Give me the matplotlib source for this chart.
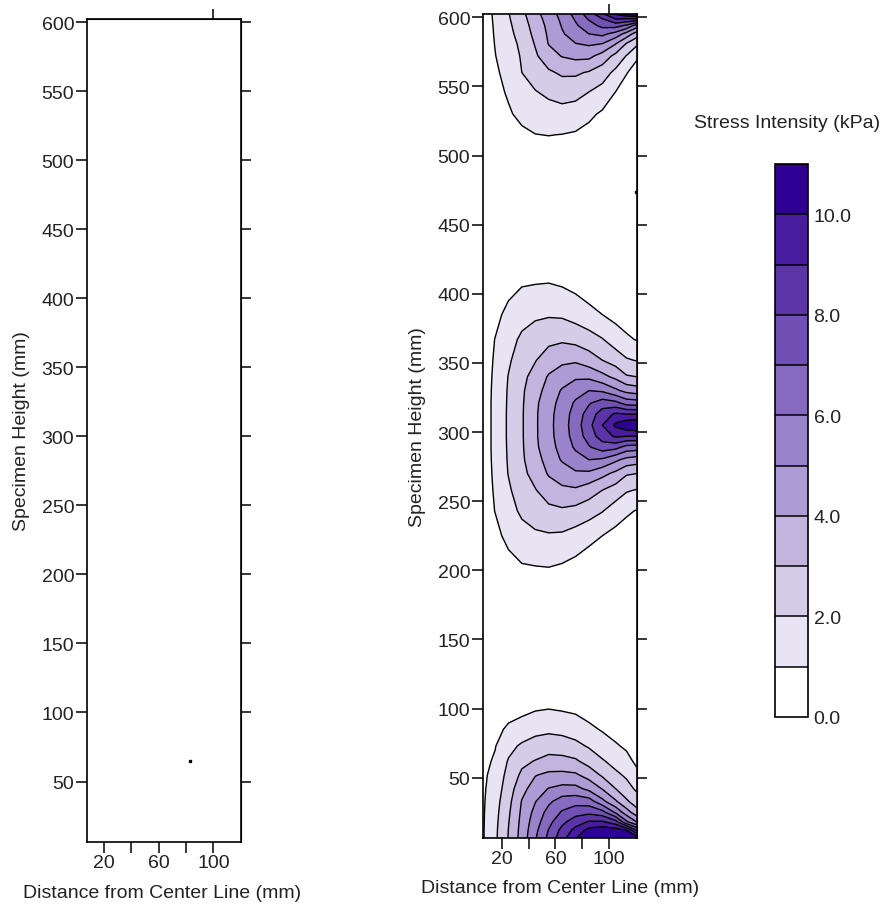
import numpy as np
import matplotlib
matplotlib.use("Agg")
import matplotlib.pyplot as plt

plt.rcParams['font.family'] = ['Liberation Sans', 'DejaVu Sans']
plt.rcParams['font.size'] = 14

# Column positions (distance from center line, mm) of the stress grid
x_cols = [6, 15, 25, 35, 45, 55, 65, 75, 85, 95, 105, 113, 120.6]

# Bottom lobe: specimen heights and stress values (kPa), one list per column
bottom_y = [6.4, 12, 18, 25, 33, 42, 52, 62, 73, 85, 100, 115, 135]
bottom_vals = [
    [0.92, 0.92, 0.91, 0.9, 0.88, 0.85, 0.8, 0.75, 0.68, 0.58, 0.45, 0.3, 0.15],
    [1.8, 1.78, 1.74, 1.68, 1.6, 1.48, 1.35, 1.12, 0.95, 0.75, 0.5, 0.3, 0.12],
    [3.05, 3.02, 2.95, 2.85, 2.7, 2.5, 2.3, 2.08, 1.7, 1.15, 0.65, 0.35, 0.12],
    [4.4, 4.35, 4.28, 4.18, 4.05, 3.7, 3.2, 2.75, 2.15, 1.4, 0.75, 0.35, 0.12],
    [5.9, 5.75, 5.55, 5.3, 4.95, 4.45, 3.95, 3.05, 2.35, 1.75, 0.9, 0.4, 0.12],
    [7.25, 7.05, 6.7, 6.35, 5.8, 5.05, 4.2, 3.35, 2.55, 1.8, 0.98, 0.45, 0.12],
    [8.6, 8.3, 7.75, 7.1, 6.45, 5.3, 4.25, 3.3, 2.5, 1.7, 0.9, 0.4, 0.12],
    [9.95, 9.3, 8.55, 7.6, 6.6, 5.3, 4.15, 3.15, 2.25, 1.55, 0.8, 0.35, 0.1],
    [10.6, 10.35, 9.1, 7.75, 6.45, 4.75, 3.6, 2.6, 1.9, 1.2, 0.6, 0.25, 0.08],
    [11.0, 10.65, 9.15, 7.35, 5.25, 3.95, 2.85, 2.1, 1.45, 0.92, 0.45, 0.2, 0.05],
    [11.0, 10.5, 8.4, 5.8, 4.1, 3.0, 2.2, 1.65, 1.1, 0.65, 0.3, 0.12, 0.03],
    [10.9, 10.0, 6.2, 4.45, 3.15, 2.35, 1.85, 1.3, 0.85, 0.5, 0.25, 0.1, 0.02],
    [10.6, 8.0, 5.0, 3.4, 2.45, 1.85, 1.25, 0.8, 0.5, 0.3, 0.12, 0.05, 0.0],
]

# Stress-free rows between the lobes
gap_y = [160, 455]

# Middle lobe: values at distances above/below its center height
mid_center = 305
mid_offsets = [0, 8, 16, 25, 35, 47, 62, 80, 100, 120]
mid_vals = [
    [0.6, 0.6, 0.6, 0.6, 0.58, 0.55, 0.48, 0.35, 0.2, 0.05],
    [1.2, 1.2, 1.2, 1.18, 1.15, 1.1, 1.02, 0.75, 0.4, 0.15],
    [2.15, 2.15, 2.13, 2.1, 2.04, 1.85, 1.6, 1.25, 0.75, 0.3],
    [2.9, 2.9, 2.88, 2.85, 2.75, 2.55, 2.2, 1.6, 1.0, 0.45],
    [3.85, 3.85, 3.8, 3.6, 3.35, 2.95, 2.45, 1.85, 1.05, 0.5],
    [4.7, 4.68, 4.6, 4.4, 4.1, 3.5, 2.75, 1.9, 1.08, 0.5],
    [5.55, 5.5, 5.35, 5.1, 4.5, 3.8, 2.85, 1.85, 1.0, 0.45],
    [6.5, 6.4, 6.15, 5.6, 4.85, 3.85, 2.7, 1.6, 0.8, 0.35],
    [7.7, 7.45, 6.9, 6.0, 4.8, 3.45, 2.45, 1.25, 0.6, 0.25],
    [9.0, 8.5, 7.5, 5.85, 4.3, 3.0, 2.05, 1.0, 0.45, 0.2],
    [10.2, 9.15, 7.3, 5.2, 3.75, 2.55, 1.5, 0.7, 0.35, 0.15],
    [10.8, 9.0, 6.6, 4.7, 3.1, 2.1, 1.15, 0.55, 0.25, 0.1],
    [11.0, 9.0, 6.5, 4.5, 3.0, 1.95, 0.95, 0.45, 0.2, 0.1],
]

# Top lobe: specimen heights (top down) and stress values per column
top_y = [602.4, 599, 594, 588, 581, 572, 560, 546, 530, 515, 500, 480]
top_vals = [
    [0.55, 0.55, 0.52, 0.5, 0.45, 0.4, 0.33, 0.25, 0.17, 0.1, 0.05, 0.0],
    [1.15, 1.13, 1.1, 1.07, 1.03, 0.97, 0.85, 0.7, 0.5, 0.3, 0.15, 0.05],
    [1.95, 1.9, 1.82, 1.73, 1.6, 1.47, 1.3, 1.12, 0.88, 0.6, 0.35, 0.1],
    [2.75, 2.65, 2.52, 2.4, 2.23, 2.1, 2.0, 1.7, 1.25, 0.8, 0.45, 0.15],
    [3.7, 3.57, 3.42, 3.27, 3.08, 2.85, 2.45, 1.95, 1.45, 0.98, 0.55, 0.2],
    [4.5, 4.38, 4.25, 4.15, 4.05, 3.6, 2.85, 2.2, 1.6, 1.02, 0.6, 0.2],
    [5.35, 5.22, 5.07, 4.9, 4.5, 4.05, 3.15, 2.4, 1.65, 0.98, 0.55, 0.2],
    [6.35, 6.12, 5.85, 5.45, 4.98, 4.25, 3.15, 2.35, 1.5, 0.9, 0.5, 0.15],
    [7.5, 7.12, 6.6, 6.0, 5.15, 4.25, 2.9, 2.0, 1.2, 0.7, 0.35, 0.1],
    [8.8, 8.0, 7.25, 6.25, 5.0, 3.6, 2.45, 1.65, 0.85, 0.45, 0.2, 0.05],
    [10.1, 9.1, 7.4, 5.6, 4.05, 2.7, 1.75, 0.98, 0.5, 0.25, 0.1, 0.0],
    [10.8, 9.0, 6.8, 4.6, 2.95, 1.95, 1.05, 0.55, 0.25, 0.1, 0.05, 0.0],
    [11.0, 9.0, 5.5, 3.5, 2.2, 1.15, 0.6, 0.3, 0.15, 0.05, 0.0, 0.0],
]

# Small stray marks seen in the two panels
stray_left = (82.8, 65)
stray_right = (120.2, 474)

levels = list(range(0, 12))
band_colors = ['#FFFFFF', '#E8E4F3', '#D5CCE8', '#C2B4DE', '#AC9BD4', '#9A83CA',
               '#856ABF', '#7150B4', '#5B34A8', '#481C9E', '#2E0094']
y_ticks = list(range(50, 601, 50))
x_ticks = [20, 40, 60, 80, 100]
x_ticklabels = ['20', '', '60', '', '100']
cbar_ticks = [0, 2, 4, 6, 8, 10]

# Assemble the grid
n = len(x_cols)
mid = np.array(mid_vals).T
off = np.array(mid_offsets)
mid_y = np.concatenate([mid_center - off[:0:-1], mid_center + off])
mid_rows = np.vstack([mid[:0:-1], mid])
y_all = np.concatenate([bottom_y, gap_y, mid_y, top_y])
z_all = np.vstack([np.array(bottom_vals).T, np.zeros((len(gap_y), n)),
                   mid_rows, np.array(top_vals).T])
order = np.argsort(y_all)
Y = y_all[order]
Z = z_all[order]

W, H = 886, 912
fig = plt.figure(figsize=(W / 100, H / 100), dpi=100)
text_color = '#222222'


def px_axes(x0, y0, x1, y1):
    return fig.add_axes([x0 / W, 1 - y1 / H, (x1 - x0) / W, (y1 - y0) / H])


def style(ax, xlim):
    ax.set_xlim(*xlim)
    ax.set_ylim(6.4, 602.4)
    ax.set_xticks(x_ticks)
    ax.set_xticklabels(x_ticklabels)
    ax.set_yticks(y_ticks)
    for s in ax.spines.values():
        s.set_linewidth(1.2)
    ax.tick_params(direction='out', length=8, width=1.1, pad=1, colors='black',
                   labelcolor=text_color)
    sy = ax.secondary_yaxis('right')
    sy.set_yticks(y_ticks)
    sy.set_yticklabels([])
    sy.tick_params(direction='out', length=7, width=1.1)
    sx = ax.secondary_xaxis('top')
    sx.set_xticks([100])
    sx.set_xticklabels([])
    sx.tick_params(direction='out', length=7, width=1.1)
    ax.set_xlabel('Distance from Center Line (mm)', color=text_color)
    ax.set_ylabel('Specimen Height (mm)', color=text_color)


# Left panel (empty field)
ax1 = px_axes(86.7, 20, 241, 842.7)
style(ax1, (7.2, 120.2))
ax1.plot([stray_left[0]], [stray_left[1]], marker='s', ms=1.6, color='black', ls='none')
ax1.xaxis.set_label_coords(0.49, -0.052)
ax1.yaxis.set_label_coords(-0.365, 0.5)

# Right panel (contours)
ax2 = px_axes(482.7, 15, 636.7, 839)
cf = ax2.contourf(x_cols, Y, Z, levels=levels, colors=band_colors)
ax2.contour(x_cols, Y, Z, levels=levels[1:-1], colors='black', linewidths=1.0)
ax2.plot([stray_right[0]], [stray_right[1]], marker='s', ms=1.6, color='black', ls='none')
style(ax2, (5.8, 120.6))
ax2.xaxis.set_label_coords(0.5, -0.05)
ax2.yaxis.set_label_coords(-0.365, 0.5)

# Colorbar
cax = px_axes(775, 165, 808, 718)
cbar = fig.colorbar(cf, cax=cax, drawedges=True)
cbar.set_ticks(cbar_ticks)
cbar.set_ticklabels([f'{t:.1f}' for t in cbar_ticks])
cbar.ax.tick_params(length=0, pad=4, labelcolor=text_color)
cbar.outline.set_linewidth(1.2)
cbar.dividers.set_linewidth(1.1)
fig.text(787 / W, 1 - 123 / H, 'Stress Intensity (kPa)', ha='center', va='center',
         color=text_color)

fig.savefig('out.png', dpi=100)
